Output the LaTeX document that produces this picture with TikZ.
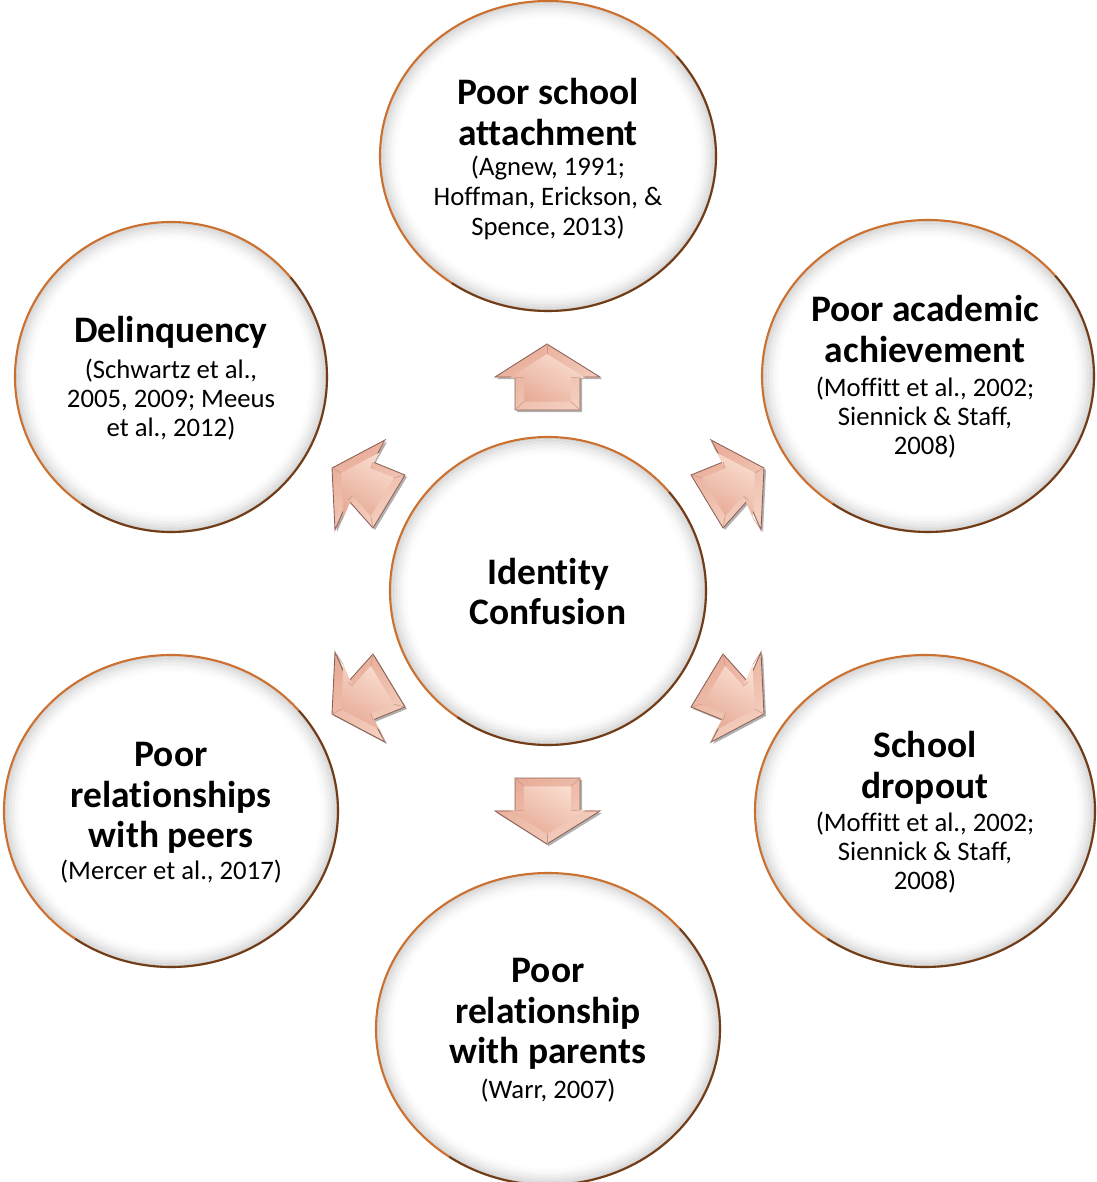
\documentclass[tikz,border=0pt]{standalone}
\usepackage{fontspec}
\setmainfont[Ligatures=NoCommon]{Carlito}
\definecolor{ringc}{RGB}{204,112,48}
\definecolor{arrbase}{RGB}{232,172,152}
\definecolor{arrlight}{RGB}{253,232,220}
\definecolor{arrdark}{RGB}{140,98,86}
\tikzset{
  titletext/.style={font=\bfseries\fontsize{21.3}{25}\selectfont, anchor=base, inner sep=0pt},
  citetext/.style={font=\fontsize{15.2}{18}\selectfont, anchor=base, inner sep=0pt},
  arrowshadow/.style={fill=black!60, opacity=.5},
  arrowbody/.style={left color=arrbase, right color=arrlight!60!arrbase, shading angle=35, draw=arrdark, line width=0.5pt},
  arrowinner/.style={top color=arrlight!80!arrbase, bottom color=arrbase, shading angle=-30},
  bevelline/.style={draw=arrdark!30!arrbase, line width=0.3pt},
}
\newcommand\bubblecircle[5]{%
  \coordinate (#1) at (#2,#3);
  \fill[white] (#1) ellipse [x radius=#4, y radius=#5];
  \foreach \dd/\cc in {1.5/16,3/14,4.5/12,6/10,7.5/8,9/6.5,10.5/5,12/3.5,13.5/2.5,15/1.5,16.5/0.8}{
    \draw[black!\cc, line width=0.9pt] (#1) ellipse [x radius=#4-\dd, y radius=#5-\dd];
  }
  \draw[ringc, line width=1.2pt] (#1) ellipse [x radius=#4, y radius=#5];
  \draw[black, opacity=.45, line width=1.2pt] (#1) ++(-40:#4 and #5) arc [start angle=-40, end angle=125, x radius=#4, y radius=#5];
}
% diagonal arrow shape (points up-left), relative to its centre
\def\diagverts{-33/-17,20/-45,8/-23,40/-10,8/43,-17/15,-30/45}
\def\upverts{0/-36,53/-3,33/-3,33/30,-32/30,-32/-3,-52/-3}
\newcommand\diagpath{(-33,-17) -- (20,-45) -- (8,-23) -- (40,-10) -- (8,43) -- (-17,15) -- (-30,45) -- cycle}
\newcommand\uppath{(0,-36) -- (53,-3) -- (33,-3) -- (33,30) -- (-32,30) -- (-32,-3) -- (-52,-3) -- cycle}
\newcommand\blockarrow[3]{% #1 = path macro, #2 = vertex list, #3 = scope options
  \begin{scope}[shift={(2,2)}, #3]
    \fill[arrowshadow] #1;
  \end{scope}
  \begin{scope}[#3]
    \path[arrowbody] #1;
    \begin{scope}[scale=0.72]
      \path[arrowinner] #1;
    \end{scope}
    \foreach \a/\b in #2 {\path[bevelline] (\a,\b) -- ({0.72*(\a)},{0.72*(\b)});}
  \end{scope}
}
\begin{document}
\begin{tikzpicture}[x=0.02cm, y=-0.02cm]
  \useasboundingbox (0,0) rectangle (1097,1182);
  \clip (0,0) rectangle (1097,1182);

  % bubbles
  \bubblecircle{top}{548}{156}{168}{155}
  \bubblecircle{tr}{928}{376}{166}{156}
  \bubblecircle{tl}{171}{377}{156}{155}
  \bubblecircle{mid}{548}{591}{158}{154}
  \bubblecircle{bl}{171}{811}{167}{156}
  \bubblecircle{br}{925}{811}{170}{156}
  \bubblecircle{bot}{548}{1029}{172}{156}

  % arrows
  \blockarrow{\uppath}{\upverts}{shift={(547,380)}}
  \blockarrow{\uppath}{\upverts}{shift={(547,808)}, yscale=-1}
  \blockarrow{\diagpath}{\diagverts}{shift={(365,485)}}
  \blockarrow{\diagpath}{\diagverts}{shift={(731,485)}, xscale=-1}
  \blockarrow{\diagpath}{\diagverts}{shift={(365,697)}, yscale=-1}
  \blockarrow{\diagpath}{\diagverts}{shift={(731,697)}, xscale=-1, yscale=-1}

  % texts: top
  \node[titletext] (t1) at (548,105) {Poor school};
  \node[titletext] (t2) at (548,146) {attachment};
  \node[citetext] (t3) at (548,176) {(Agnew, 1991;};
  \node[citetext] (t4) at (548,206) {Hoffman, Erickson, \&};
  \node[citetext] (t5) at (548,236) {Spence, 2013)};
  % top right
  \node[titletext] (a1) at (925,321) {Poor academic};
  \node[titletext] (a2) at (925,362) {achievement};
  \node[citetext] (a3) at (925,396) {(Moffitt et al., 2002;};
  \node[citetext] (a4) at (925,425) {Siennick \& Staff,};
  \node[citetext] (a5) at (925,454) {2008)};
  % top left
  \node[titletext] (d1) at (171,342) {Delinquency};
  \node[citetext] (d2) at (171,378) {(Schwartz et al.,};
  \node[citetext] (d3) at (171,407) {2005, 2009; Meeus};
  \node[citetext] (d4) at (171,436) {et al., 2012)};
  % centre
  \node[titletext] (c1) at (548,584) {Identity};
  \node[titletext] (c2) at (548,624) {Confusion};
  % bottom left
  \node[titletext] (p1) at (171,766) {Poor};
  \node[titletext] (p2) at (171,807) {relationships};
  \node[titletext] (p3) at (171,847) {with peers};
  \node[citetext] (p4) at (171,879) {(Mercer et al., 2017)};
  % bottom right
  \node[titletext] (s1) at (925,757) {School};
  \node[titletext] (s2) at (925,798) {dropout};
  \node[citetext] (s3) at (925,831) {(Moffitt et al., 2002;};
  \node[citetext] (s4) at (925,860) {Siennick \& Staff,};
  \node[citetext] (s5) at (925,889) {2008)};
  % bottom
  \node[titletext] (r1) at (548,982) {Poor};
  \node[titletext] (r2) at (548,1023) {relationship};
  \node[titletext] (r3) at (548,1063) {with parents};
  \node[citetext] (r4) at (548,1098) {(Warr, 2007)};
\end{tikzpicture}
\end{document}
